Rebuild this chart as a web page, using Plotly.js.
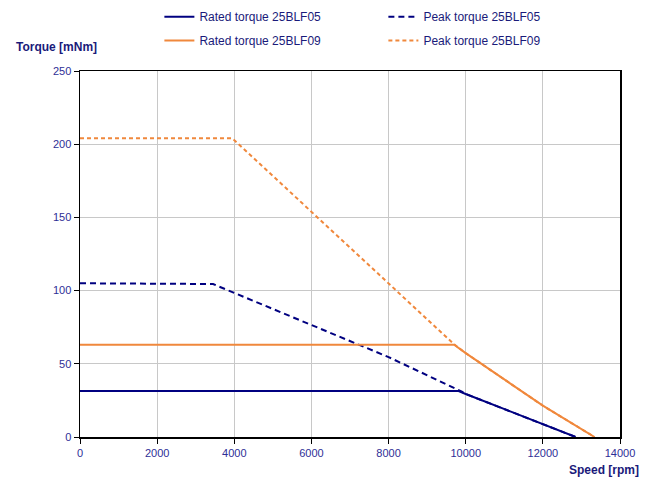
<!DOCTYPE html>
<html>
<head>
<meta charset="utf-8">
<script src="https://cdn.plot.ly/plotly-3.0.1.min.js"></script>
<style>html,body{margin:0;padding:0;background:#fff;}#chart{width:654px;height:479px;}</style>
</head>
<body>
<div id="chart"></div>
<script>
// Speed [rpm] / Torque [mNm]
const rated05Speed = [0, 9800, 10000, 10500, 11000, 11500, 12000, 12500, 12850];
const rated05Torque = [31.5, 31.5, 29.4, 24.2, 19.0, 14.0, 8.7, 3.6, 0];

const peak05Speed = [0, 3350, 3450, 3600, 4000, 6000, 8000, 9300, 9900, 10000, 10500, 11000, 11500, 12000, 12500, 12850];
const peak05Torque = [105, 105, 104.5, 102.8, 98.5, 76.5, 54.6, 38.7, 31.0, 29.4, 24.2, 19.0, 14.0, 8.7, 3.6, 0];

const rated09Speed = [0, 9700, 10000, 10500, 11000, 11500, 12000, 12500, 13000, 13340];
const rated09Torque = [63, 63, 57.3, 48.3, 39.5, 30.3, 21.4, 13.4, 5.5, 0];

const peak09Speed = [0, 3950, 9700, 10000, 10500, 11000, 11500, 12000, 12500, 13000, 13340];
const peak09Torque = [204, 204, 63.3, 57.3, 48.3, 39.5, 30.3, 21.4, 13.4, 5.5, 0];

const seriesNames = ['Rated torque 25BLF05', 'Peak torque 25BLF05', 'Rated torque 25BLF09', 'Peak torque 25BLF09'];
const xTicks = [0, 2000, 4000, 6000, 8000, 10000, 12000, 14000];
const yTicks = [0, 50, 100, 150, 200, 250];

const navy = '#000080';
const orange = '#f0883c';
const textBlue = '#2e2e96';
const titleBlue = '#1a1a7a';
const fontFamily = 'Liberation Sans, Arial, sans-serif';

const traces = [
  {x: rated05Speed, y: rated05Torque, name: seriesNames[0], mode: 'lines', legend: 'legend', line: {color: navy, width: 2, dash: 'solid'}},
  {x: peak05Speed, y: peak05Torque, name: seriesNames[1], mode: 'lines', legend: 'legend', line: {color: navy, width: 2, dash: '6px,4px'}},
  {x: rated09Speed, y: rated09Torque, name: seriesNames[2], mode: 'lines', legend: 'legend2', line: {color: orange, width: 2, dash: 'solid'}},
  {x: peak09Speed, y: peak09Torque, name: seriesNames[3], mode: 'lines', legend: 'legend2', line: {color: orange, width: 2, dash: '4px,3px'}}
];

const axisCommon = {
  showline: true, linecolor: '#000', linewidth: 1.5, mirror: true,
  ticks: 'outside', ticklen: 5, tickcolor: '#000', tickwidth: 1,
  showgrid: true, gridcolor: '#c8c8c8', gridwidth: 1,
  zeroline: false,
  tickfont: {family: fontFamily, size: 11, color: textBlue}
};

const legendCommon = {
  orientation: 'h', x: 0.147, xanchor: 'left', yanchor: 'middle',
  entrywidth: 179, entrywidthmode: 'pixels', itemwidth: 30,
  font: {family: fontFamily, size: 12, color: titleBlue},
  bgcolor: 'rgba(0,0,0,0)', traceorder: 'normal'
};

const layout = {
  width: 654, height: 479,
  margin: {l: 80, r: 34, t: 70.5, b: 41.6, autoexpand: false},
  paper_bgcolor: '#fff', plot_bgcolor: '#fff',
  showlegend: true,
  legend: Object.assign({}, legendCommon, {y: 1.1485}),
  legend2: Object.assign({}, legendCommon, {y: 1.083}),
  xaxis: Object.assign({}, axisCommon, {range: [0, 14000], tickvals: xTicks, ticktext: xTicks.map(String)}),
  yaxis: Object.assign({}, axisCommon, {range: [0, 250], tickvals: yTicks, ticktext: yTicks.map(String)}),
  annotations: [
    {text: '<b>Torque [mNm]</b>', xref: 'paper', yref: 'paper', x: -0.122, y: 1.065, xanchor: 'left', yanchor: 'middle', showarrow: false,
     font: {family: fontFamily, size: 12, color: titleBlue}},
    {text: '<b>Speed [rpm]</b>', xref: 'paper', yref: 'paper', x: 1.039, y: -0.09, xanchor: 'right', yanchor: 'middle', showarrow: false,
     font: {family: fontFamily, size: 12, color: titleBlue}}
  ]
};

Plotly.newPlot('chart', traces, layout, {displayModeBar: false, staticPlot: true});
</script>
</body>
</html>
